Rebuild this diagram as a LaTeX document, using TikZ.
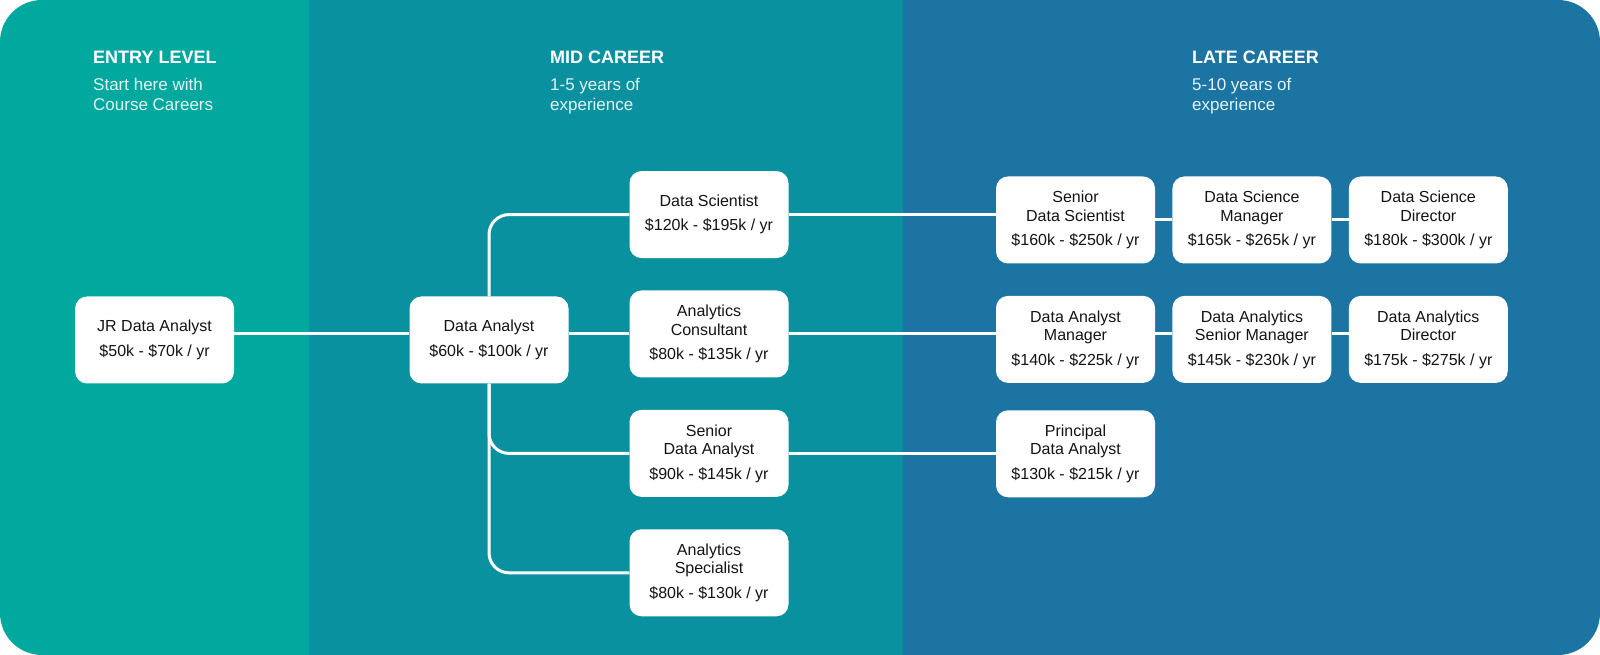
\documentclass[tikz,border=0pt]{standalone}
\usepackage{fontspec}
\setmainfont{Liberation Sans}
\usetikzlibrary{positioning}

\definecolor{entrycol}{HTML}{00A89E}
\definecolor{midcol}{HTML}{0A91A0}
\definecolor{latecol}{HTML}{1B74A1}
\definecolor{ink}{HTML}{141414}
\definecolor{subtext}{HTML}{E2F4F3}

\pgfdeclarelayer{panels}
\pgfdeclarelayer{links}
\pgfsetlayers{panels,links,main}

\begin{document}
\begin{tikzpicture}[
    x=1pt, y=1pt,
    node distance=32pt and 17pt,
    job/.style={fill=white, rounded corners=12pt, minimum width=159pt, minimum height=87pt, inner sep=0pt, align=center, text=ink, font=\fontsize{16}{18.5}\selectfont},
    head/.style={text=white, inner sep=0pt, anchor=base west, font=\fontsize{18}{22}\selectfont\bfseries},
    sub/.style={text=subtext, inner sep=0pt, anchor=base west, align=left, font=\fontsize{17}{20}\selectfont},
    link/.style={draw=white, line width=3pt},
    branch/.style={link, rounded corners=20pt}
]
    \useasboundingbox (0,0) rectangle (1600,655);

    % background bands
    \begin{pgfonlayer}{panels}
        \begin{scope}
            \clip[rounded corners=42pt] (0,0) rectangle (1600,655);
            \fill[entrycol] (0,0) rectangle (309,655);
            \fill[midcol] (309,0) rectangle (903,655);
            \fill[latecol] (903,0) rectangle (1600,655);
        \end{scope}
    \end{pgfonlayer}

    % column headings
    \node[head] (entryhead) at (93,591) {ENTRY LEVEL};
    \node[sub] (entrysub) at (93,544) {Start here with\\Course Careers};
    \node[head] (midhead) at (550,591) {MID CAREER};
    \node[sub] (midsub) at (550,544) {1-5 years of\\experience};
    \node[head] (latehead) at (1192,591) {LATE CAREER};
    \node[sub] (latesub) at (1192,544) {5-10 years of\\experience};

    % roles
    \node[job] (da) at (489,315) {Data Analyst\\[6pt]\$60k - \$100k / yr};
    \node[job, left=175pt of da] (jr) {JR Data Analyst\\[6pt]\$50k - \$70k / yr};
    \node[job] (ac) at (709,321) {Analytics\\Consultant\\[6pt]\$80k - \$135k / yr};
    \node[job, above=of ac] (ds) {Data Scientist\\[6pt]\$120k - \$195k / yr};
    \node[job, below=of ac] (sda) {Senior\\Data Analyst\\[6pt]\$90k - \$145k / yr};
    \node[job, below=of sda] (as) {Analytics\\Specialist\\[6pt]\$80k - \$130k / yr};

    \node[job] (sds) at (1075.5,435) {Senior\\Data Scientist\\[6pt]\$160k - \$250k / yr};
    \node[job, right=of sds] (dsm) {Data Science\\Manager\\[6pt]\$165k - \$265k / yr};
    \node[job, right=of dsm] (dsd) {Data Science\\Director\\[6pt]\$180k - \$300k / yr};
    \node[job, below=of sds] (dam) {Data Analyst\\Manager\\[6pt]\$140k - \$225k / yr};
    \node[job, right=of dam] (dasm) {Data Analytics\\Senior Manager\\[6pt]\$145k - \$230k / yr};
    \node[job, right=of dasm] (dad) {Data Analytics\\Director\\[6pt]\$175k - \$275k / yr};
    \node[job, below=27pt of dam] (pda) {Principal\\Data Analyst\\[6pt]\$130k - \$215k / yr};

    % connectors
    \begin{pgfonlayer}{links}
        \draw[link] (jr.east |- ac) -- (da.west |- ac);
        \draw[link] (da.east |- ac) -- (ac);
        \draw[link] (ac) -- (ac -| dam.west);
        \draw[link] (dam.east |- ac) -- (dasm.west |- ac);
        \draw[link] (dasm.east |- ac) -- (dad.west |- ac);
        \draw[branch] (da) |- (ds);
        \draw[branch] (da) |- (sda);
        \draw[branch] (da) |- (as);
        \draw[link] (ds) -- (ds -| sds);
        \draw[link] (sds) -- (dsm);
        \draw[link] (dsm) -- (dsd);
        \draw[link] (sda) -- (sda -| pda);
    \end{pgfonlayer}
\end{tikzpicture}
\end{document}
